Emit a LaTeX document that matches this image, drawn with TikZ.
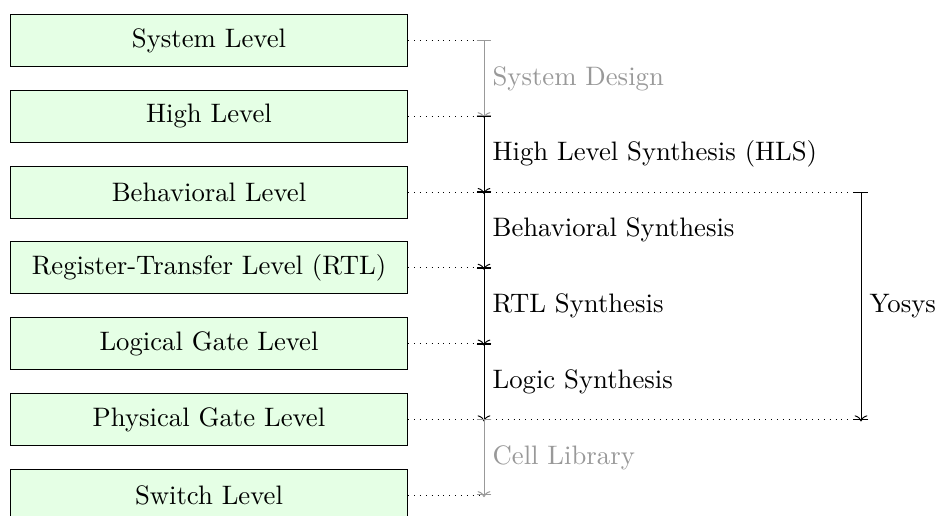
\documentclass[tikz,border=0pt]{standalone}
\usetikzlibrary{arrows.meta,positioning}

\begin{document}
\begin{tikzpicture}[x=0.41pt,y=-0.41pt,font=\fontsize{10.95}{13.6}\selectfont,
    level/.style={draw, fill=green!10, minimum width=163pt, minimum height=21.3pt, inner sep=0pt},
    guide/.style={dotted},
    span/.style={{Bar[width=6pt]}-{To[sep=-1.2pt]Bar[width=6pt]}},
    outside/.style={gray!80},
    ]
    \useasboundingbox (0,0) rectangle (939,516);

    \coordinate (axis) at (484,0);
    \coordinate (yaxis) at (861,0);

    % abstraction levels
    \foreach \name/\txt [count=\i from 0] in {sys/System Level, hl/High Level, beh/Behavioral Level,
        rtl/Register-Transfer Level (RTL), lg/Logical Gate Level, pg/Physical Gate Level, sw/Switch Level}
    {
        \node[level] (\name) at (209,40.5+75.8*\i) {\txt};
    }

    \foreach \name in {sys,hl,rtl,lg,sw}
        \draw[guide] (\name.east) -- (\name.east -| axis);
    \foreach \name in {beh,pg}
        \draw[guide] (\name.east) -- (\name.east -| yaxis);

    % synthesis steps
    \draw[span,outside] (sys.east -| axis) -- node[right] {System Design} (hl.east -| axis);
    \draw[span] (hl.east -| axis) -- node[right] {High Level Synthesis (HLS)} (beh.east -| axis);
    \draw[span] (beh.east -| axis) -- node[right] {Behavioral Synthesis} (rtl.east -| axis);
    \draw[span] (rtl.east -| axis) -- node[right] {RTL Synthesis} (lg.east -| axis);
    \draw[span] (lg.east -| axis) -- node[right] {Logic Synthesis} (pg.east -| axis);
    \draw[span,outside] (pg.east -| axis) -- node[right] {Cell Library} (sw.east -| axis);

    \draw[span] (beh.east -| yaxis) -- node[right] {Yosys} (pg.east -| yaxis);
\end{tikzpicture}
\end{document}
